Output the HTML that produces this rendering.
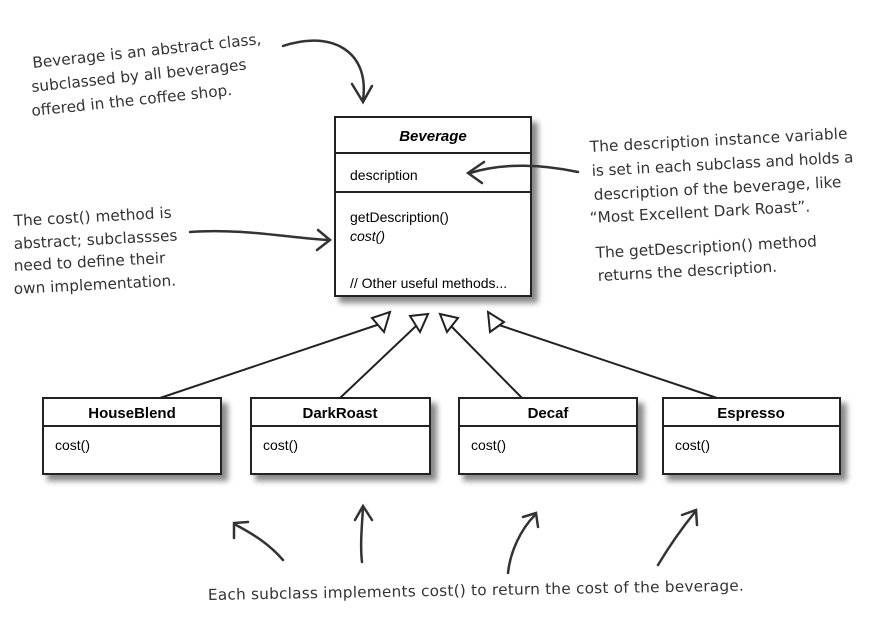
<!DOCTYPE html>
<html><head><meta charset="utf-8"><style>
html,body{margin:0;padding:0;background:#fff;}
svg{display:block;}
.h{font-family:"DejaVu Sans","Liberation Sans",sans-serif;font-size:15.3px;fill:#333;}
.u{font-family:"Liberation Sans",sans-serif;font-size:14px;fill:#000;}
.b{font-weight:bold;font-size:15px;}
</style></head><body>
<svg width="880" height="622" viewBox="0 0 880 622" xmlns="http://www.w3.org/2000/svg">
<defs>
<filter id="sh" x="-10%" y="-10%" width="130%" height="130%"><feGaussianBlur stdDeviation="3"/></filter>
</defs>
<g fill="#888" filter="url(#sh)">
<rect x="339" y="122" width="199" height="181"/>
<rect x="47" y="403" width="181" height="78"/>
<rect x="255" y="403" width="182" height="78"/>
<rect x="463" y="403" width="181" height="78"/>
<rect x="667" y="403" width="180" height="78"/>
</g>
<g fill="#fff" stroke="#222" stroke-width="2">
<rect x="335" y="117" width="196" height="179"/>
<line x1="335" y1="153" x2="531" y2="153"/>
<line x1="335" y1="192" x2="531" y2="192"/>
<rect x="43" y="398" width="178" height="76"/>
<line x1="43" y1="426" x2="221" y2="426"/>
<rect x="251" y="398" width="179" height="76"/>
<line x1="251" y1="426" x2="430" y2="426"/>
<rect x="459" y="398" width="178" height="76"/>
<line x1="459" y1="426" x2="637" y2="426"/>
<rect x="663" y="398" width="177" height="76"/>
<line x1="663" y1="426" x2="840" y2="426"/>
</g>
<text class="u b" x="433" y="141" text-anchor="middle" font-style="italic">Beverage</text>
<text class="u" x="350" y="180">description</text>
<text class="u" x="350" y="222">getDescription()</text>
<text class="u" x="350" y="241" font-style="italic">cost()</text>
<text class="u" x="350" y="288">// Other useful methods...</text>
<text class="u b" x="132" y="418" text-anchor="middle">HouseBlend</text>
<text class="u b" x="340" y="418" text-anchor="middle">DarkRoast</text>
<text class="u b" x="548" y="418" text-anchor="middle">Decaf</text>
<text class="u b" x="751" y="418" text-anchor="middle">Espresso</text>
<text class="u" x="55" y="450">cost()</text>
<text class="u" x="263" y="450">cost()</text>
<text class="u" x="471" y="450">cost()</text>
<text class="u" x="675" y="450">cost()</text>
<g stroke="#222" stroke-width="2" fill="none">
<line x1="160" y1="398" x2="380" y2="324"/>
<line x1="340" y1="398" x2="416" y2="326"/>
<line x1="522" y1="398" x2="451" y2="326"/>
<line x1="717" y1="398" x2="496" y2="324"/>
</g>
<g stroke="#222" stroke-width="2" fill="#fff">
<polygon points="390,312 372,318 384,332"/>
<polygon points="428,314 410,316 420,332"/>
<polygon points="440,314 458,318 447,332"/>
<polygon points="488,312 504,322 490,332"/>
</g>
<g stroke="#333" stroke-width="2.5" fill="none" stroke-linecap="round">
<path d="M283,46 C330,30 370,50 363,100"/>
<path d="M352,84 L363,102 L372,86"/>
<path d="M578,172 C545,165 505,162 470,173"/>
<path d="M484,162 L468,173 L482,183"/>
<path d="M190,232 C240,228 290,238 328,240"/>
<path d="M318,230 L330,240 L317,250"/>
<path d="M283,560 C270,545 255,535 236,525"/>
<path d="M234,538 L234,523 L248,522"/>
<path d="M362,562 C360,545 362,525 363,508"/>
<path d="M355,520 L363,506 L372,520"/>
<path d="M508,573 C510,553 520,530 535,515"/>
<path d="M523,517 L536,513 L538,527"/>
<path d="M658,565 C670,545 682,528 695,512"/>
<path d="M682,515 L696,510 L697,525"/>
</g>
<g class="h">
<text transform="translate(33,68) rotate(-6)">Beverage is an abstract class,</text>
<text transform="translate(32,92) rotate(-6)">subclassed by all beverages</text>
<text transform="translate(32,116) rotate(-6)">offered in the coffee shop.</text>
<text transform="translate(590,152) rotate(-3)" textLength="258">The description instance variable</text>
<text transform="translate(592,176) rotate(-3)" textLength="262">is set in each subclass and holds a</text>
<text transform="translate(594,200) rotate(-3)">description of the beverage, like</text>
<text transform="translate(590,223) rotate(-3)">“Most Excellent Dark Roast”.</text>
<text transform="translate(596,258) rotate(-3)">The getDescription() method</text>
<text transform="translate(598,281) rotate(-3)">returns the description.</text>
<text transform="translate(14,226) rotate(-3)">The cost() method is</text>
<text transform="translate(14,249) rotate(-3)">abstract; subclassses</text>
<text transform="translate(14,271) rotate(-3)">need to define their</text>
<text transform="translate(14,294) rotate(-3)">own implementation.</text>
<text transform="translate(208,600) rotate(-1)" textLength="536">Each subclass implements cost() to return the cost of the beverage.</text>
</g>
</svg>
</body></html>
